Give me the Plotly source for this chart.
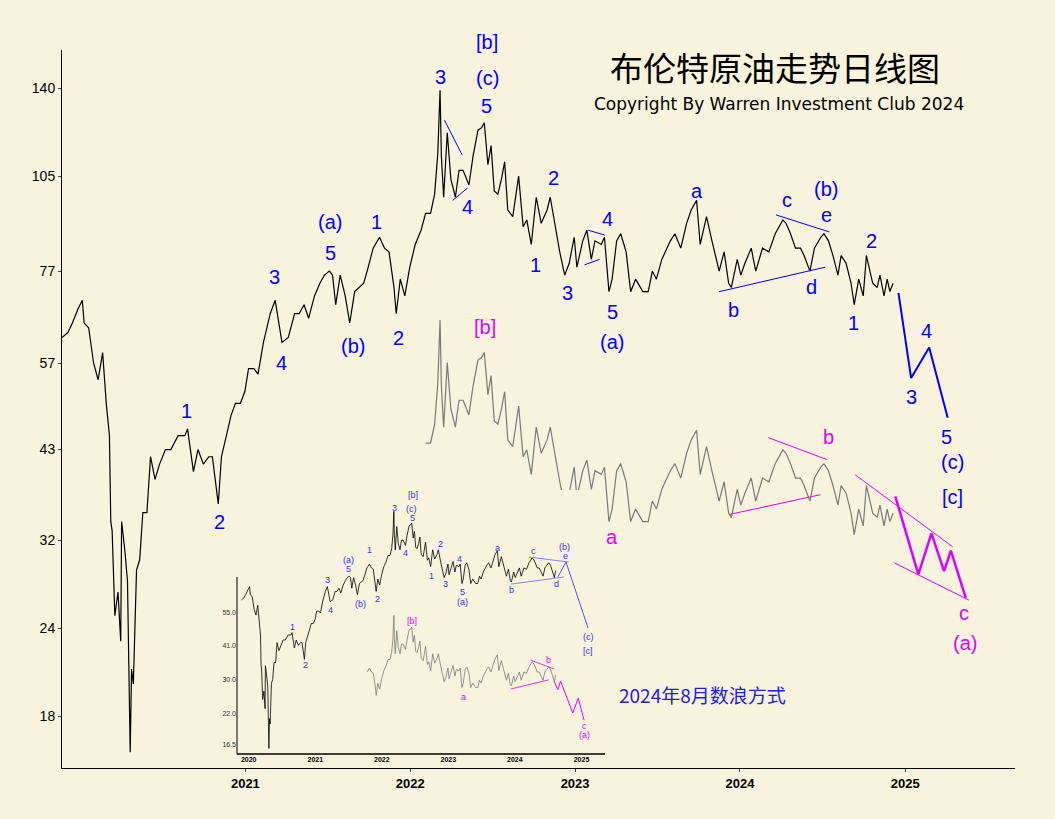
import plotly.graph_objects as go
import math

# ---- data (Brent daily, read approx. from picture) ----
dates = ["2019-11-22","2019-12-05","2019-12-15","2019-12-27","2020-01-06","2020-01-10","2020-01-20","2020-01-31","2020-02-10","2020-02-20","2020-02-28","2020-03-06","2020-03-09","2020-03-12","2020-03-18","2020-03-25","2020-03-31","2020-04-02","2020-04-09","2020-04-15","2020-04-21","2020-04-24","2020-04-28","2020-05-05","2020-05-12","2020-05-19","2020-05-28","2020-06-05","2020-06-15","2020-06-25","2020-07-08","2020-07-20","2020-08-05","2020-08-20","2020-08-26","2020-09-08","2020-09-18","2020-09-30","2020-10-12","2020-10-20","2020-11-02","2020-11-09","2020-11-20","2020-11-30","2020-12-10","2020-12-21","2020-12-31",
"2021-01-08","2021-01-20","2021-01-29","2021-02-10","2021-02-25","2021-03-08","2021-03-18","2021-03-23","2021-04-06","2021-04-20","2021-04-30","2021-05-11","2021-05-21","2021-06-03","2021-06-15","2021-06-25","2021-07-06","2021-07-13","2021-07-20","2021-07-30","2021-08-10","2021-08-20","2021-08-31","2021-09-10","2021-09-20","2021-09-30","2021-10-11","2021-10-25","2021-11-05","2021-11-15","2021-11-26","2021-12-01","2021-12-10","2021-12-20","2021-12-31",
"2022-01-12","2022-01-25","2022-02-04","2022-02-15","2022-02-24","2022-03-03","2022-03-08","2022-03-11","2022-03-16","2022-03-24","2022-04-01","2022-04-11","2022-04-19","2022-04-28","2022-05-11","2022-05-20","2022-05-31","2022-06-08","2022-06-14","2022-06-22","2022-06-29","2022-07-06","2022-07-14","2022-07-22","2022-07-29","2022-08-05","2022-08-16","2022-08-29","2022-09-08","2022-09-16","2022-09-26","2022-10-07","2022-10-18","2022-10-31","2022-11-07","2022-11-21","2022-11-28","2022-12-09","2022-12-19","2022-12-30",
"2023-01-05","2023-01-18","2023-01-27","2023-02-06","2023-02-14","2023-02-28","2023-03-07","2023-03-17","2023-03-24","2023-04-03","2023-04-12","2023-04-24","2023-05-04","2023-05-15","2023-05-31","2023-06-12","2023-06-21","2023-06-30","2023-07-12","2023-07-31","2023-08-10","2023-08-23","2023-09-05","2023-09-15","2023-09-27","2023-10-05","2023-10-19","2023-10-31","2023-11-16","2023-11-27","2023-12-07","2023-12-13","2023-12-26",
"2024-01-03","2024-01-12","2024-01-26","2024-02-05","2024-02-20","2024-03-05","2024-03-19","2024-04-05","2024-04-12","2024-04-22","2024-05-03","2024-05-14","2024-05-22","2024-06-04","2024-06-14","2024-06-28","2024-07-05","2024-07-15","2024-07-25","2024-08-05","2024-08-12","2024-08-23","2024-09-03","2024-09-10","2024-09-20","2024-09-30","2024-10-07","2024-10-14","2024-10-21","2024-10-31","2024-11-06","2024-11-15","2024-11-22","2024-11-28","2024-12-05"]
prices = [62,63,65,68,70,65,64,57,54,59,50,45,34,33,25,27,23,34,31,28,16,21,20,29,30,35,35,42,39,41,43,43,45,45,46,40,43,41,42,42,36,42,45,48,50,50,52,
56,56,55,61,67,70,64,61,62,67,67,69,66,71,74,76,77,76,69,76,71,65,72,73,74,78,83,86,83,82,73,67,75,71,78,
84,88,93,93,99,113,139,112,98,121,104,98,107,107,102,112,122,123,125,109,116,100,99,104,110,94,92,105,89,91,84,98,90,94,98,87,82,76,79,86,
78,85,88,80,85,84,86,72,75,85,87,82,72,75,72,72,77,75,80,85,87,83,90,94,97,84,92,85,77,82,74,73,80,
76,79,83,77,83,82,87,91,90,87,83,83,81,77,83,86,87,85,81,76,81,79,74,69,75,71,81,77,74,73,76,71,75,72,74]

# projections / wave lines (main chart)
blue_proj_x = ["2024-12-17","2025-01-14","2025-02-23","2025-04-05"]
blue_proj_y = [71.7, 54.3, 60, 47.7]
mag_proj_x = ["2024-12-10","2025-01-30","2025-02-28","2025-03-28","2025-04-12","2025-05-15"]
mag_proj_y = [36.9, 28.6, 32.7, 28.9, 30.9, 26.5]
mag_chan_top_x = ["2024-09-12","2025-04-16"]; mag_chan_top_y = [39.6, 31.3]
mag_chan_bot_x = ["2024-12-08","2025-05-22"]; mag_chan_bot_y = [29.7, 26.3]
blue_lines = [(["2024-03-21","2024-07-17"],[92.5,87.5]), (["2023-11-16","2024-07-08"],[72,78]),
              (["2022-03-18","2022-04-26"],[126,112.5]), (["2022-04-05","2022-05-08"],[97,101]),
              (["2023-01-30","2023-03-08"],[88,86.6]), (["2023-01-22","2023-02-24"],[78.6,80])]
mag_lines = [(["2024-03-04","2024-07-12"],[44.7,41.6]), (["2023-12-10","2024-06-27"],[34.8,37.1])]

# inset
inset_blue_x = ["2024-08-24","2024-10-08","2025-02-06"]; inset_blue_y = [76.4, 87.6, 48]
inset_blue_lines = [(["2024-03-17","2024-10-22"],[91.7,87.6]), (["2023-12-10","2024-09-27"],[71.6,76.4])]
inset_mag_x = ["2024-08-04","2024-08-24","2024-09-08","2024-11-14","2024-12-14","2025-01-15"]
inset_mag_y = [29.6, 27.3, 29.6, 22.1, 25.3, 20.7]
inset_mag_lines = [(["2024-03-28","2024-08-04"],[35.8,33]), (["2023-12-10","2024-07-05"],[27.5,29.9])]

main_yticks = [18,24,32,43,57,77,105,140]
inset_yticks = [16.5,22,30,41,55]
inset_yticktext = ["16.5","22.0","30.0","41.0","55.0"]
years = ["2020","2021","2022","2023","2024","2025"]

BLUE = "#0000ff"; MAG = "#dd00ff"; BG = "#f7f3dc"
fig = go.Figure()

def line(x, y, color, w, xa="x", ya="y"):
    fig.add_trace(go.Scatter(x=x, y=y, mode="lines", line=dict(color=color, width=w),
                             xaxis=xa, yaxis=ya, showlegend=False, hoverinfo="skip"))

# main
i_g = dates.index("2022-02-04")
line(dates, prices, "black", 1.2)
line(dates[i_g:], prices[i_g:], "#7a7a7a", 1.2, ya="y2")
line(blue_proj_x, blue_proj_y, BLUE, 2)
line(mag_proj_x, mag_proj_y, MAG, 2.5)
line(mag_chan_top_x, mag_chan_top_y, MAG, 1)
line(mag_chan_bot_x, mag_chan_bot_y, MAG, 1)
for lx, ly in blue_lines: line(lx, ly, BLUE, 1)
for lx, ly in mag_lines: line(lx, ly, MAG, 1)

# inset
i_end = dates.index("2024-08-23")
i_g2 = dates.index("2021-10-11")
line(dates[:i_end], prices[:i_end], "black", 0.8, "x3", "y3")
line(dates[i_g2:i_end], prices[i_g2:i_end], "#7a7a7a", 0.8, "x3", "y4")
line(inset_blue_x, inset_blue_y, "#5555ff", 1, "x3", "y3")
for lx, ly in inset_blue_lines: line(lx, ly, "#6666ff", 0.8, "x3", "y3")
line(inset_mag_x, inset_mag_y, MAG, 1, "x3", "y3")
for lx, ly in inset_mag_lines: line(lx, ly, MAG, 0.8, "x3", "y3")

L, R, T, B = 62, 1015, 50, 768
def P(px, py):
    return (px - L) / (R - L), (B - py) / (B - T)

anns = []
def lab(t, px, py, color, size, family="Arial"):
    x, y = P(px, py)
    anns.append(dict(text=t, x=x, y=y, xref="paper", yref="paper", showarrow=False,
                     xanchor="center", yanchor="middle", font=dict(color=color, size=size, family=family)))

blue_main = [("[b]",487,42),("(c)",487,78),("3",440,77),("5",486,106),("4",467,207),("2",553,178),
             ("1",535,265),("3",567,293),("4",607,219),("5",612,312),("(a)",612,342),("a",697,191),
             ("c",787,200),("(b)",826,189),("e",826,215),("b",733,310),("d",811,287),("1",853,323),
             ("2",871,241),("1",186,411),("2",219,522),("3",274,277),("4",281,363),("(a)",330,222),
             ("5",330,253),("(b)",353,346),("1",376,222),("2",398,338),("3",911,397),("4",926,331),
             ("5",946,437),("(c)",952,462),("[c]",952,497)]
for t, x, y in blue_main: lab(t, x, y, BLUE, 20)
for t, x, y in [("[b]",485,327),("a",612,537),("b",828,437),("c",964,613),("(a)",965,643)]:
    lab(t, x, y, MAG, 20)
blue_inset = [("[b]",413,495),("(c)",411,509),("5",412,518),("3",394,508),("4",405,553),("2",440,544),
              ("1",431,576),("3",445,584),("4",459,559),("5",462,592),("(a)",462,602),("a",497,548),
              ("c",533,551),("(b)",564,547),("e",565,556),("b",511,590),("d",556,584),("1",292,627),
              ("2",305,665),("3",327,580),("4",330,610),("(a)",348,560),("5",348,569),("(b)",360,604),
              ("1",369,550),("2",377,599),("(c)",588,637),("[c]",588,651)]
for t, x, y in blue_inset: lab(t, x, y, "#3333ee", 9)
for t, x, y in [("[b]",412,621),("a",463,697),("b",548,660),("c",584,726),("(a)",584,735)]:
    lab(t, x, y, MAG, 9)
lab("布伦特原油走势日线图", 775, 67, "black", 33, "Noto Sans CJK SC")
lab("Copyright By Warren Investment Club 2024", 779, 104, "black", 17, "DejaVu Sans")
lab("2024年8月数浪方式", 702, 694, "#2020dd", 19, "Noto Sans CJK SC")

main_range = [math.log10(15.2), math.log10(158.5)]
g_shift = -math.log10(0.472)
in_range = [math.log10(15.2), math.log10(169)]
g2_shift = -math.log10(0.387)
ix0, ix1 = P(237, 0)[0], P(605, 0)[0]
iy0, iy1 = P(0, 754)[1], P(0, 490)[1]

fig.update_layout(
    width=1055, height=819, paper_bgcolor=BG, plot_bgcolor=BG,
    margin=dict(l=L, r=1055 - R, t=T, b=819 - B), annotations=anns,
    xaxis=dict(type="date", range=["2019-11-22", "2025-09-01"], showgrid=False, zeroline=False,
               showline=True, linecolor="black", linewidth=1,
               tickvals=["2021-01-01","2022-01-01","2023-01-01","2024-01-01","2025-01-01"],
               ticktext=years[1:], ticks="outside", ticklen=3,
               tickfont=dict(family="Arial", size=13, color="black", weight="bold")),
    yaxis=dict(type="log", range=main_range, showgrid=False, zeroline=False, showline=True,
               linecolor="black", linewidth=1, tickvals=main_yticks,
               ticktext=[str(v) for v in main_yticks], ticks="outside", ticklen=3,
               tickfont=dict(family="Arial", size=14, color="black")),
    yaxis2=dict(type="log", range=[main_range[0] + g_shift, main_range[1] + g_shift],
                overlaying="y", visible=False),
    xaxis3=dict(type="date", domain=[ix0, ix1], anchor="y3", range=["2019-10-29", "2025-05-10"],
                showgrid=False, zeroline=False, showline=False,
                tickvals=[y + "-01-01" for y in years], ticktext=years, ticks="",
                tickfont=dict(family="Arial", size=7, color="black", weight="bold")),
    yaxis3=dict(type="log", domain=[iy0, iy1], anchor="x3", range=in_range, showgrid=False,
                zeroline=False, showline=False, tickvals=inset_yticks, ticktext=inset_yticktext,
                tickfont=dict(family="Arial", size=7, color="#333")),
    yaxis4=dict(type="log", range=[in_range[0] + g2_shift, in_range[1] + g2_shift],
                overlaying="y3", visible=False),
    shapes=[dict(type="line", xref="paper", yref="paper", x0=ix0, x1=ix0, y0=iy0, y1=P(0, 577)[1],
                 line=dict(color="black", width=1)),
            dict(type="line", xref="paper", yref="paper", x0=ix0, x1=ix1, y0=iy0, y1=iy0,
                 line=dict(color="black", width=1.5))],
)
fig.write_html("out.html", config={"displayModeBar": False},
               post_script="document.body.style.margin='0';document.body.style.background='%s';" % BG)
